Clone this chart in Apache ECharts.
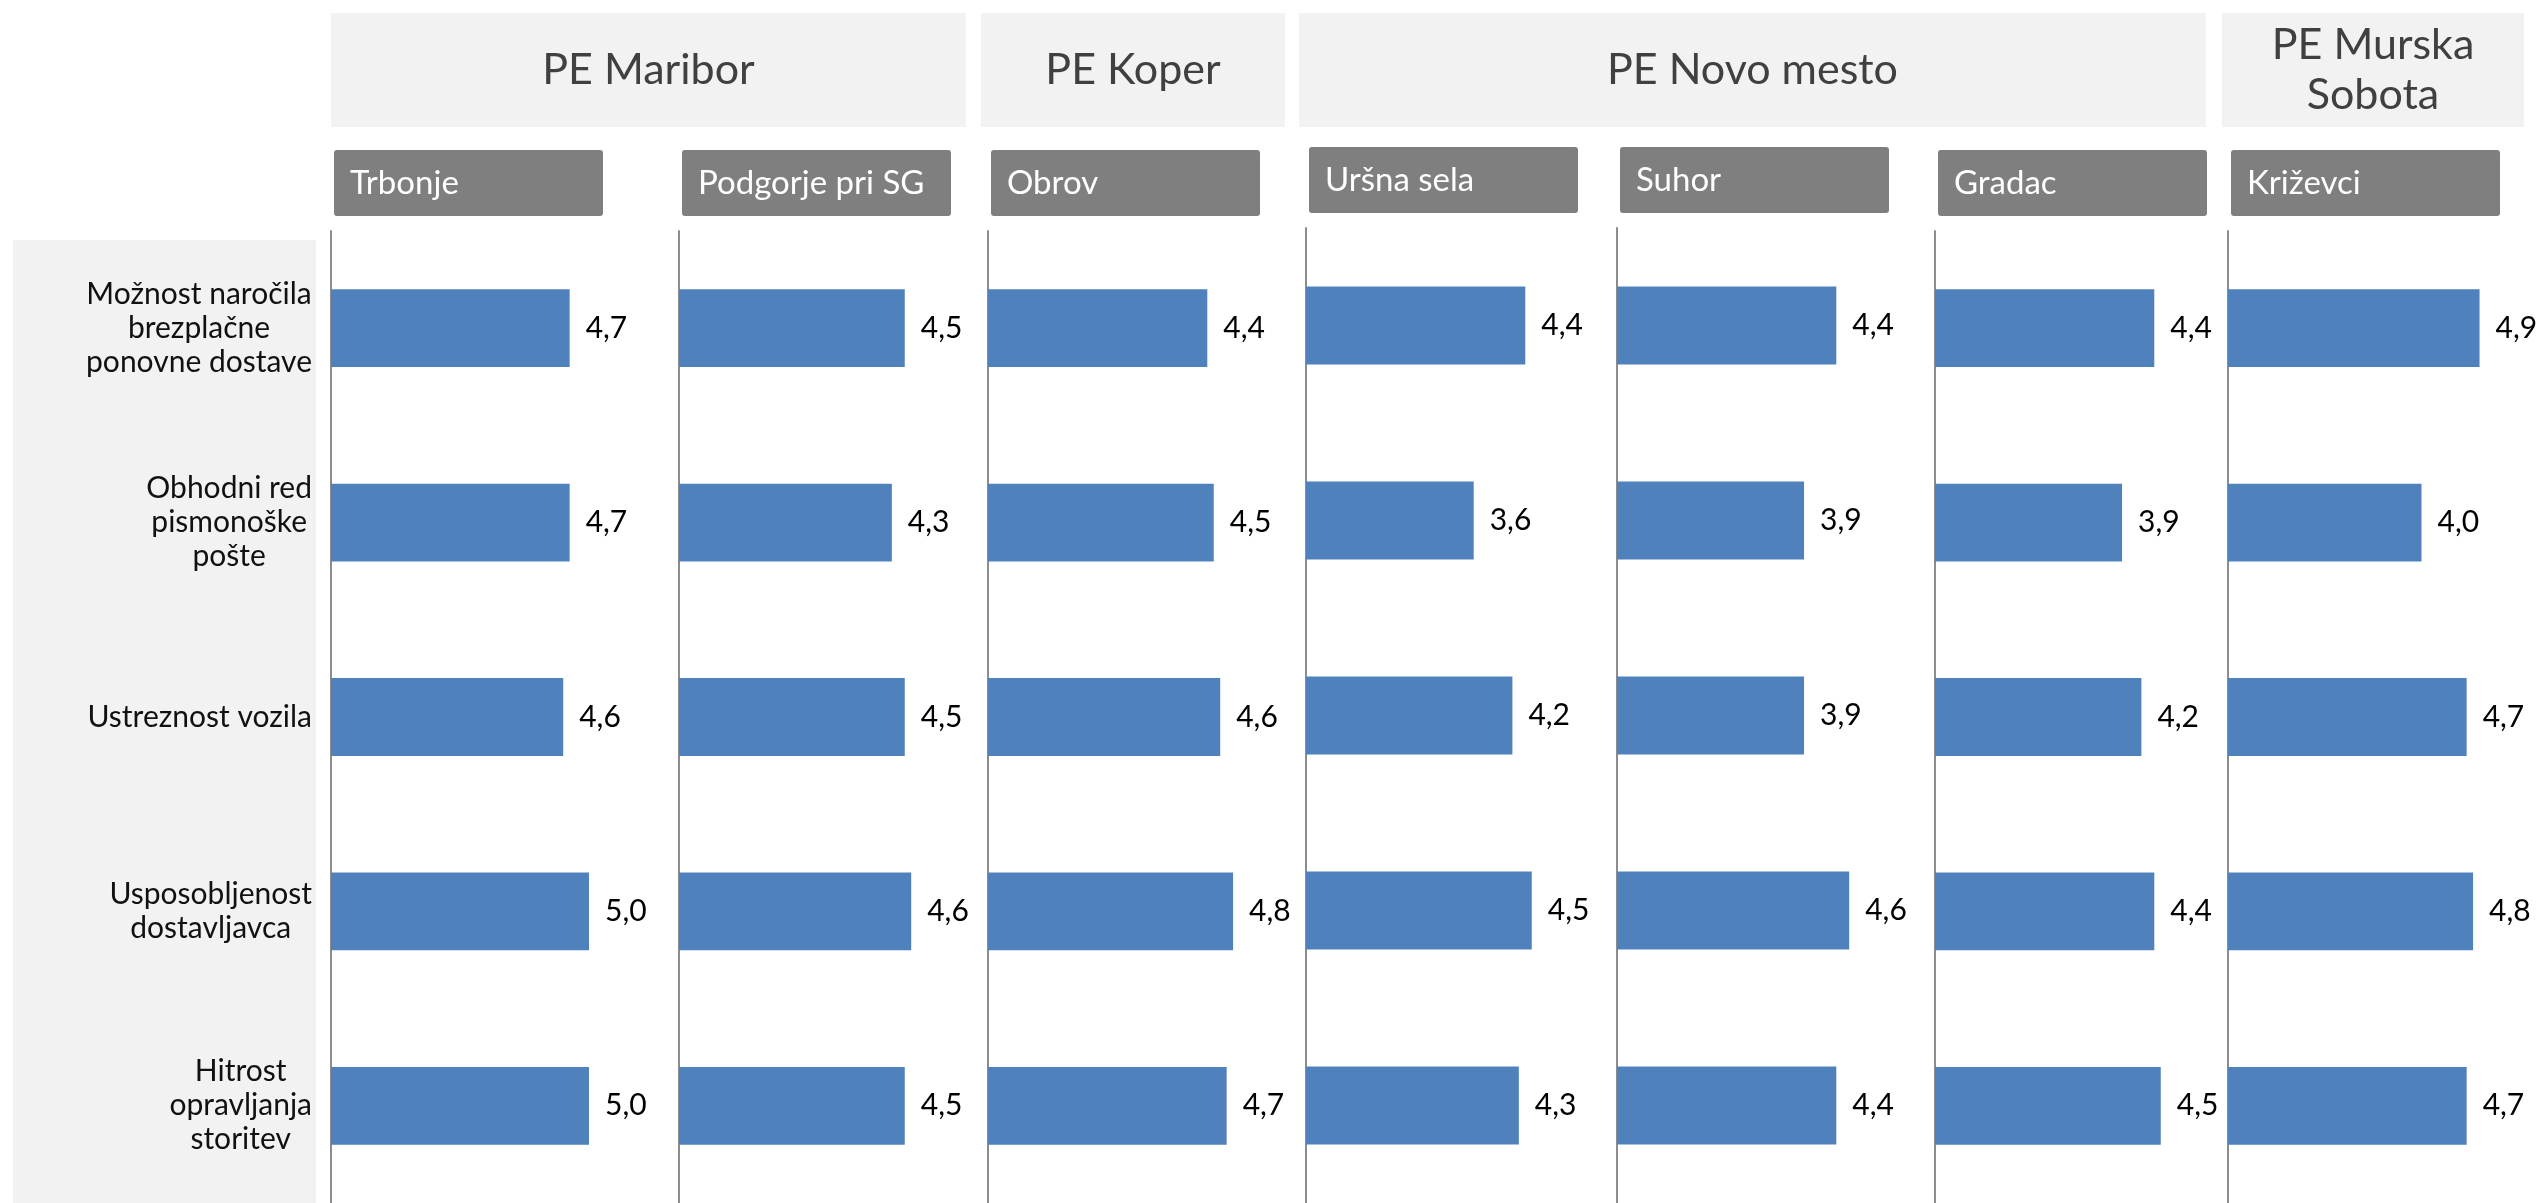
<!DOCTYPE html>
<html>
<head>
<meta charset="utf-8">
<script src="https://cdn.jsdelivr.net/npm/echarts@6/dist/echarts.min.js"></script>
<style>
  html, body { margin: 0; padding: 0; background: #ffffff; }
  #chart { width: 2539px; height: 1203px; }
</style>
</head>
<body>
<div id="chart"></div>
<script>
// Rated aspects of the delivery service (rows, top to bottom)
const categories = [
  'Možnost naročila\nbrezplačne\nponovne dostave',
  'Obhodni red\npismonoške\npošte',
  'Ustreznost vozila',
  'Usposobljenost\ndostavljavca',
  'Hitrost\nopravljanja\nstoritev'
];

// Regional units and the places surveyed in each
const regions = ['PE Maribor', 'PE Koper', 'PE Novo mesto', 'PE Murska\nSobota'];
const places = ['Trbonje', 'Podgorje pri SG', 'Obrov', 'Uršna sela', 'Suhor', 'Gradac', 'Križevci'];

// Average ratings per place, in the order of `categories`
const trbonje   = [4.7, 4.7, 4.6, 5.0, 5.0];
const podgorje  = [4.5, 4.3, 4.5, 4.6, 4.5];
const obrov     = [4.4, 4.5, 4.6, 4.8, 4.7];
const ursnaSela = [4.4, 3.6, 4.2, 4.5, 4.3];
const suhor     = [4.4, 3.9, 3.9, 4.6, 4.4];
const gradac    = [4.4, 3.9, 4.2, 4.4, 4.5];
const krizevci  = [4.9, 4.0, 4.7, 4.8, 4.7];
const placeValues = [trbonje, podgorje, obrov, ursnaSela, suhor, gradac, krizevci];

// Rating scale of every panel
const scaleMin = 1;
const scaleMax = 5;

// ---- layout ----
const FONT = 'Lato, "Open Sans", "DejaVu Sans", sans-serif';
const panelX = [331, 679, 988, 1306, 1617, 1935, 2228];
const panelTop = [231, 231, 231, 228, 228, 231, 231];
const panelW = 258;
const panelH = 975;
const regionBoxes = [[331, 966], [981, 1285], [1299, 2206], [2222, 2524]];
const regionTop = 13, regionH = 114;

const fmt = v => v.toFixed(1).replace('.', ',');

const grids = [], xAxes = [], yAxes = [], series = [];
placeValues.forEach((vals, i) => {
  grids.push({ left: panelX[i], top: panelTop[i], width: panelW, height: panelH, containLabel: false });
  xAxes.push({
    type: 'value', gridIndex: i, min: scaleMin, max: scaleMax, startValue: scaleMin,
    show: false, splitLine: { show: false }
  });
  yAxes.push({
    type: 'category', gridIndex: i, data: categories, inverse: true,
    axisLine: { show: true, onZero: false, lineStyle: { color: '#8c8c8c', width: 2 } },
    axisTick: { show: false },
    splitLine: { show: false },
    axisLabel: i === 0 ? {
      show: true, margin: 19, color: '#111111',
      formatter: v => v.split('\n').map(s => '{c|' + s + '}').join('\n'),
      rich: { c: { align: 'center', fontSize: 30, lineHeight: 34, fontFamily: FONT, color: '#111111' } }
    } : { show: false }
  });
  series.push({
    type: 'bar', name: places[i], xAxisIndex: i, yAxisIndex: i, data: vals,
    barCategoryGap: '60%', clip: true,
    itemStyle: { color: '#4f81bd' },
    label: {
      show: true, position: 'right', distance: 16,
      formatter: p => fmt(p.value),
      fontSize: 30, fontFamily: FONT, color: '#000000'
    },
    emphasis: { disabled: true },
    silent: true
  });
});

// Header boxes and the shaded category panel
const graphics = [
  { type: 'rect', z: -10, shape: { x: 13, y: 240, width: 303, height: 963 }, style: { fill: '#f2f2f2' } }
];
regions.forEach((name, k) => {
  const [x0, x1] = regionBoxes[k];
  graphics.push({ type: 'rect', z: -10, shape: { x: x0, y: regionTop, width: x1 - x0, height: regionH }, style: { fill: '#f2f2f2' } });
  graphics.push({
    type: 'text', z: 5, x: (x0 + x1) / 2, y: regionTop + regionH / 2,
    style: {
      text: name, fill: '#404040', fontSize: 43, fontFamily: FONT, lineHeight: 50,
      align: 'center', verticalAlign: 'middle', textAlign: 'center', textVerticalAlign: 'middle'
    }
  });
});
places.forEach((name, i) => {
  const bx = panelX[i] + 3, by = panelTop[i] - 81;
  graphics.push({ type: 'rect', z: -5, shape: { x: bx, y: by, width: 269, height: 66, r: 3 }, style: { fill: '#7f7f7f' } });
  graphics.push({
    type: 'text', z: 5, x: bx + 16, y: by + 33,
    style: {
      text: name, fill: '#ffffff', fontSize: 33, fontFamily: FONT,
      align: 'left', verticalAlign: 'middle', textAlign: 'left', textVerticalAlign: 'middle'
    }
  });
});

const chart = echarts.init(document.getElementById('chart'), null, { renderer: 'canvas' });
chart.setOption({
  animation: false,
  backgroundColor: '#ffffff',
  grid: grids,
  xAxis: xAxes,
  yAxis: yAxes,
  series: series,
  graphic: graphics
});
</script>
</body>
</html>
